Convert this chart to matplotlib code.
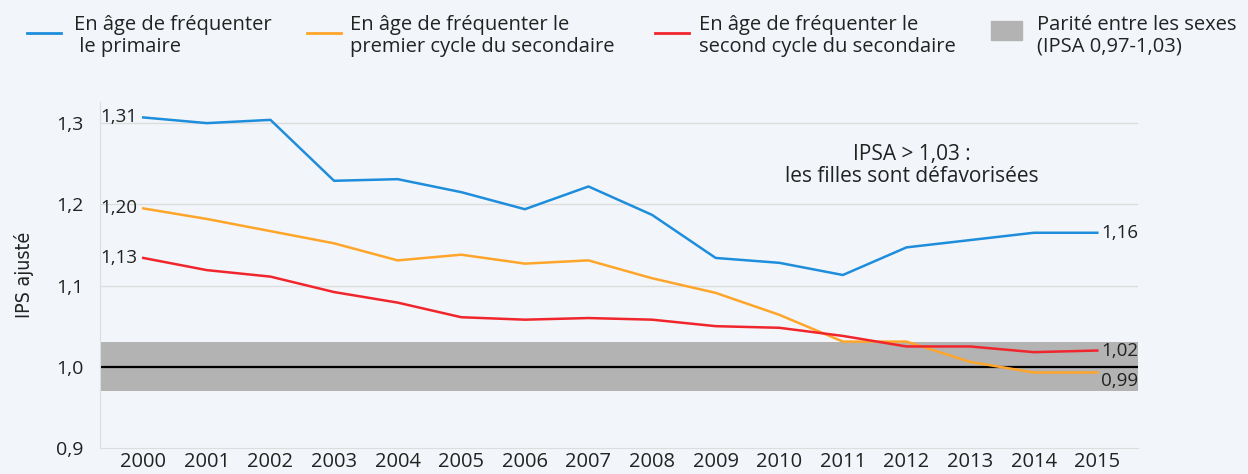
import matplotlib.pyplot as plt
from matplotlib.lines import Line2D
from matplotlib.patches import Rectangle

plt.rcParams['font.family'] = ['Open Sans', 'DejaVu Sans']

years = list(range(2000, 2016))
primaire = [1.307, 1.300, 1.304, 1.229, 1.231, 1.215, 1.194, 1.222, 1.187, 1.134,
            1.128, 1.113, 1.147, 1.156, 1.165, 1.165]
premier_cycle = [1.195, 1.182, 1.167, 1.152, 1.131, 1.138, 1.127, 1.131, 1.109, 1.091,
                 1.064, 1.031, 1.031, 1.006, 0.993, 0.993]
second_cycle = [1.134, 1.119, 1.111, 1.092, 1.079, 1.061, 1.058, 1.060, 1.058, 1.050,
                1.048, 1.038, 1.025, 1.025, 1.018, 1.020]
start_labels = ["1,31", "1,20", "1,13"]
end_labels = ["1,16", "0,99", "1,02"]
yticks = [0.9, 1.0, 1.1, 1.2, 1.3]
ytick_labels = ["0,9", "1,0", "1,1", "1,2", "1,3"]

BLUE = "#1e8ddc"
ORANGE = "#ffa52a"
RED = "#f0262c"
GREY = "#b3b3b3"
BG = "#f2f6fa"
TXT = "#222222"

fig = plt.figure(figsize=(12.48, 4.74), dpi=100, facecolor=BG)
ax = fig.add_axes([100 / 1248, 1 - 448 / 474, 1038 / 1248, 346 / 474], facecolor=BG)

ax.set_xlim(1999.32, 2015.64)
ax.set_ylim(0.9, 1.326)

# parity band
ax.axhspan(0.97, 1.03, color=GREY, lw=0, zorder=1)
ax.axhline(1.0, color="black", lw=1.6, zorder=2)
for y in [1.1, 1.2, 1.3]:
    ax.axhline(y, color="#dddddd", lw=1, zorder=0)

series = [(primaire, BLUE), (premier_cycle, ORANGE), (second_cycle, RED)]
for (vals, col), s_lab, e_lab in zip(series, start_labels, end_labels):
    ax.plot(years, vals, color=col, lw=1.8, zorder=3)
    ax.text(years[0] - 0.1, vals[0], s_lab, ha="right", va="center",
            fontsize=13.5, color=TXT)
    dy = -0.01 if e_lab == "0,99" else 0
    ax.text(years[-1] + 0.06, vals[-1] + dy, e_lab, ha="left", va="center",
            fontsize=13.5, color=TXT, clip_on=False)

ax.text(2012.08, 1.248, "IPSA > 1,03 :\nles filles sont défavorisées",
        ha="center", va="center", fontsize=15, color=TXT, linespacing=1.1)

ax.set_xticks(years)
ax.set_xticklabels([str(y) for y in years], fontsize=14.5, color=TXT)
ax.set_yticks(yticks)
ax.set_yticklabels(ytick_labels, fontsize=14, color=TXT)
ax.tick_params(axis="both", length=0)
ax.tick_params(axis="y", pad=12)
ax.tick_params(axis="x", pad=3)
for side in ["top", "right"]:
    ax.spines[side].set_visible(False)
ax.spines["left"].set_color("#dddddd")
ax.spines["bottom"].set_color("#dddddd")
ax.set_ylabel("IPS ajusté", fontsize=14, color=TXT, family="DejaVu Sans",
              fontstretch="condensed")
ax.yaxis.set_label_coords(-66 / 1038, 0.5)

# legend drawn by hand
W, H = 1248, 474
leg = [(27, 74, BLUE, "En âge de fréquenter\n le primaire"),
       (307, 350, ORANGE, "En âge de fréquenter le\npremier cycle du secondaire"),
       (655, 699, RED, "En âge de fréquenter le\nsecond cycle du secondaire")]
for x0, xt, col, lab in leg:
    fig.add_artist(Line2D([x0 / W, (x0 + 34) / W], [1 - 33 / H] * 2, color=col, lw=2))
    fig.text(xt / W, 1 - 36 / H, lab, ha="left", va="center",
             fontsize=14.5, color=TXT, linespacing=1.1)
fig.add_artist(Rectangle((991 / W, 1 - 40 / H), 31 / W, 19 / H, color=GREY,
                         transform=fig.transFigure))
fig.text(1037 / W, 1 - 36 / H, "Parité entre les sexes\n(IPSA 0,97-1,03)", ha="left",
         va="center", fontsize=14.5, color=TXT, linespacing=1.1)

fig.savefig("out.png", dpi=100, facecolor=BG)
